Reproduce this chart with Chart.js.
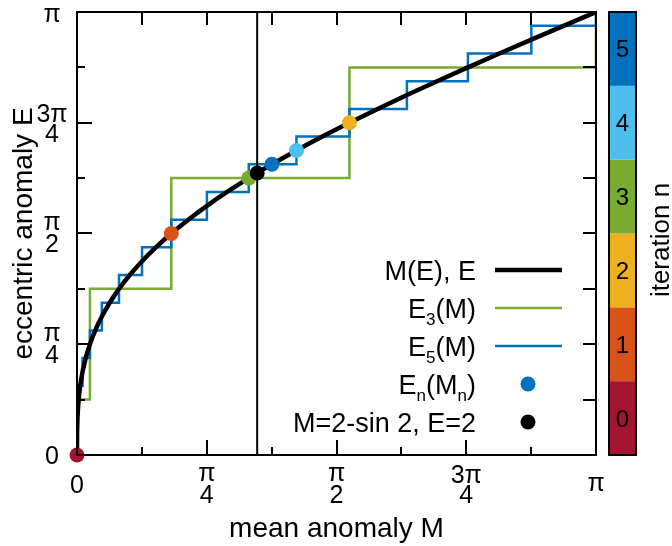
<!DOCTYPE html>
<html>
<head>
<meta charset="utf-8">
<script src="https://cdn.jsdelivr.net/npm/chart.js@4"></script>
<style>
  html, body { margin: 0; padding: 0; background: #ffffff; }
  #wrap { width: 672px; height: 546px; }
</style>
</head>
<body>
<div id="wrap"><canvas id="chart" width="672" height="546"></canvas></div>
<script>
// Kepler's equation for e = 1: M = E - sin E, sampled at E = k*pi/32
const curveE = [0, 0.09817, 0.19635, 0.29452, 0.39270, 0.49087, 0.58905, 0.68722,
  0.78540, 0.88357, 0.98175, 1.07992, 1.17810, 1.27627, 1.37445, 1.47262,
  1.57080, 1.66897, 1.76715, 1.86532, 1.96350, 2.06167, 2.15984, 2.25802,
  2.35619, 2.45437, 2.55254, 2.65072, 2.74889, 2.84707, 2.94524, 3.04342, 3.14159];
const curveM = [0, 0.00016, 0.00126, 0.00424, 0.01002, 0.01948, 0.03348, 0.05283,
  0.07829, 0.11056, 0.15028, 0.19800, 0.25422, 0.31933, 0.39366, 0.47744,
  0.57080, 0.67379, 0.78636, 0.90838, 1.03962, 1.17975, 1.32838, 1.48501,
  1.64909, 1.81998, 1.99697, 2.17932, 2.36621, 2.55678, 2.75015, 2.94540, 3.14159];

// Bisection after 3 steps: E3(M), start of each constant piece and its value
const e3M = [0, 0.07829, 0.57080, 1.64909, 3.14159];
const e3E = [0.39270, 1.17810, 1.96350, 2.74889, 3.14159];

// Bisection after 5 steps: E5(M)
const e5M = [0, 0.00126, 0.01002, 0.03348, 0.07829, 0.15028, 0.25422, 0.39366,
  0.57080, 0.78636, 1.03962, 1.32838, 1.64909, 1.99697, 2.36621, 2.75015, 3.14159];
const e5E = [0.09817, 0.29452, 0.49087, 0.68722, 0.88357, 1.07992, 1.27627, 1.47262,
  1.66897, 1.86532, 2.06167, 2.25802, 2.45437, 2.65072, 2.84707, 3.04342, 3.14159];

// Iterates (M_n, E_n), n = 0..5, for the target M = 2 - sin 2
const iterN = [0, 1, 2, 3, 4, 5];
const iterM = [0, 0.57080, 1.64909, 1.03962, 1.32838, 1.17975];
const iterE = [0, 1.57080, 2.35619, 1.96350, 2.15984, 2.06167];
const iterColors = ['#A2142F', '#D95319', '#EDB120', '#77AC30', '#4DBEEE', '#0072BD'];

// Target point
const solM = [1.09070];
const solE = [2];

// Axis ticks (multiples of pi/8) and labels on the multiples of pi/4
const AXMAX = 3.14159265;
const tickVals = [0, 0.39270, 0.78540, 1.17810, 1.57080, 1.96350, 2.35619, 2.74889, 3.14159];
const majorVals = [0, 0.78540, 1.57080, 2.35619, 3.14159];
const majorLabels = ['0', 'π/4', 'π/2', '3π/4', 'π'];

const legendLabels = [
  [{ t: 'M(E), E' }],
  [{ t: 'E' }, { t: '3', sub: true }, { t: '(M)' }],
  [{ t: 'E' }, { t: '5', sub: true }, { t: '(M)' }],
  [{ t: 'E' }, { t: 'n', sub: true }, { t: '(M' }, { t: 'n', sub: true }, { t: ')' }],
  [{ t: 'M=2-sin 2, E=2' }]
];

const FONT = '"Liberation Sans", Arial, Helvetica, sans-serif';

function font(size) { return size + 'px ' + FONT; }

// draw text with its ink box centred on (cx, cy)
function textCentered(ctx, s, cx, cy, size) {
  ctx.font = font(size);
  const m = ctx.measureText(s);
  const base = cy + (m.actualBoundingBoxAscent - m.actualBoundingBoxDescent) / 2;
  ctx.textAlign = 'center';
  ctx.textBaseline = 'alphabetic';
  ctx.fillText(s, cx, base);
}

function tickLabel(ctx, label, cx, cy, size) {
  const parts = label.split('/');
  if (parts.length === 1) {
    textCentered(ctx, label, cx, cy, size);
  } else {
    textCentered(ctx, parts[0], cx, cy - 10, size);
    textCentered(ctx, parts[1], cx, cy + 10, size);
  }
}

// right-aligned text with subscripts
function richRight(ctx, parts, xr, baseY, size) {
  const subSize = Math.round(size * 0.64);
  let w = 0;
  parts.forEach(p => { ctx.font = font(p.sub ? subSize : size); p.w = ctx.measureText(p.t).width; w += p.w; });
  let x = xr - w;
  ctx.textAlign = 'left';
  ctx.textBaseline = 'alphabetic';
  parts.forEach(p => {
    ctx.font = font(p.sub ? subSize : size);
    ctx.fillText(p.t, x, baseY + (p.sub ? 7 : 0));
    x += p.w;
  });
}

const decorations = {
  id: 'decorations',
  afterDraw(chart) {
    const ctx = chart.ctx;
    const xs = chart.scales.x, ys = chart.scales.y;
    const L = chart.chartArea.left, R = chart.chartArea.right;
    const T = chart.chartArea.top, B = chart.chartArea.bottom;
    ctx.save();
    ctx.strokeStyle = '#000';
    ctx.fillStyle = '#000';
    ctx.lineCap = 'butt';

    // tick marks pointing inwards
    ctx.lineWidth = 2;
    ctx.beginPath();
    tickVals.forEach(v => {
      const major = majorVals.indexOf(v) >= 0;
      const px = Math.round(xs.getPixelForValue(v));
      const py = Math.round(ys.getPixelForValue(v));
      const lenBL = major ? 15 : 8;
      ctx.moveTo(px, B); ctx.lineTo(px, B - lenBL);
      ctx.moveTo(L, py); ctx.lineTo(L + lenBL, py);
      ctx.moveTo(px, T); ctx.lineTo(px, T + 13);
      ctx.moveTo(R, py); ctx.lineTo(R - 13, py);
    });
    ctx.stroke();

    // frame
    ctx.lineWidth = 2;
    ctx.strokeRect(L, T, R - L, B - T);

    // tick labels
    majorVals.forEach((v, i) => {
      const px = xs.getPixelForValue(v);
      const py = ys.getPixelForValue(v);
      tickLabel(ctx, majorLabels[i], px, 484, 25);
      tickLabel(ctx, majorLabels[i], 52, Math.min(Math.max(py, 15), 456), 25);
    });

    // axis titles
    ctx.font = font(28);
    ctx.textAlign = 'center';
    ctx.textBaseline = 'alphabetic';
    ctx.fillText('mean anomaly M', (L + R) / 2, 537);
    ctx.save();
    ctx.translate(32, (T + B) / 2);
    ctx.rotate(-Math.PI / 2);
    ctx.fillText('eccentric anomaly E', 0, 0);
    ctx.restore();

    // legend
    const rowY = [270, 308, 346, 384, 422];
    const xr = 476, s0 = 495, s1 = 562, dotX = 528;
    legendLabels.forEach((parts, i) => richRight(ctx, parts, xr, rowY[i] + 9.5, 27));
    ctx.beginPath(); ctx.lineWidth = 4.5; ctx.strokeStyle = '#000';
    ctx.moveTo(s0, rowY[0]); ctx.lineTo(s1, rowY[0]); ctx.stroke();
    ctx.beginPath(); ctx.lineWidth = 2.5; ctx.strokeStyle = iterColors[3];
    ctx.moveTo(s0, rowY[1]); ctx.lineTo(s1, rowY[1]); ctx.stroke();
    ctx.beginPath(); ctx.lineWidth = 2.5; ctx.strokeStyle = iterColors[5];
    ctx.moveTo(s0, rowY[2]); ctx.lineTo(s1, rowY[2]); ctx.stroke();
    ctx.beginPath(); ctx.fillStyle = iterColors[5];
    ctx.arc(dotX, rowY[3], 7.5, 0, 2 * Math.PI); ctx.fill();
    ctx.beginPath(); ctx.fillStyle = '#000';
    ctx.arc(dotX, rowY[4], 7.5, 0, 2 * Math.PI); ctx.fill();

    // colour bar for the iteration number
    const cbL = 609, cbR = 636;
    const segH = (B - T) / iterColors.length;
    iterColors.forEach((c, n) => {
      ctx.fillStyle = c;
      ctx.fillRect(cbL, B - (n + 1) * segH, cbR - cbL, segH);
    });
    ctx.lineWidth = 2; ctx.strokeStyle = '#000';
    ctx.strokeRect(cbL, T, cbR - cbL, B - T);
    ctx.fillStyle = '#000';
    iterN.forEach(n => textCentered(ctx, String(n), (cbL + cbR) / 2, B - (n + 0.5) * segH, 24));
    ctx.font = font(26);
    ctx.textAlign = 'center';
    ctx.save();
    ctx.translate(669, 240);
    ctx.rotate(-Math.PI / 2);
    ctx.fillText('iteration n', 0, 0);
    ctx.restore();

    ctx.restore();
  }
};

const pts = (xs, ys) => xs.map((x, i) => ({ x: x, y: ys[i] }));

new Chart(document.getElementById('chart'), {
  type: 'scatter',
  data: {
    datasets: [
      {
        label: 'M=2-sin 2, E=2',
        data: pts(solM, solE),
        pointRadius: 7.5, pointBackgroundColor: '#000', pointBorderWidth: 0,
        showLine: false, clip: false, order: 1
      },
      {
        label: 'En(Mn)',
        data: pts(iterM, iterE),
        pointRadius: 7.5, pointBackgroundColor: iterColors, pointBorderWidth: 0,
        showLine: false, clip: false, order: 2
      },
      {
        label: 'M = 2 - sin 2',
        data: [{ x: solM[0], y: 0 }, { x: solM[0], y: AXMAX }],
        showLine: true, borderColor: '#000', borderWidth: 2, pointRadius: 0, order: 3
      },
      {
        label: 'M(E), E',
        data: pts(curveM, curveE),
        showLine: true, borderColor: '#000', borderWidth: 4.5, pointRadius: 0,
        cubicInterpolationMode: 'monotone', borderJoinStyle: 'round', order: 4
      },
      {
        label: 'E5(M)',
        data: pts(e5M, e5E),
        showLine: true, stepped: 'before', borderColor: '#0072BD', borderWidth: 2.5,
        pointRadius: 0, order: 5
      },
      {
        label: 'E3(M)',
        data: pts(e3M, e3E),
        showLine: true, stepped: 'before', borderColor: '#77AC30', borderWidth: 2.5,
        pointRadius: 0, order: 6
      }
    ]
  },
  options: {
    responsive: false,
    animation: false,
    devicePixelRatio: 1,
    layout: { padding: { left: 77, right: 76, top: 12, bottom: 91 } },
    scales: {
      x: { type: 'linear', min: 0, max: AXMAX, display: false },
      y: { type: 'linear', min: 0, max: AXMAX, display: false }
    },
    plugins: { legend: { display: false }, tooltip: { enabled: false } }
  },
  plugins: [decorations]
});
</script>
</body>
</html>
